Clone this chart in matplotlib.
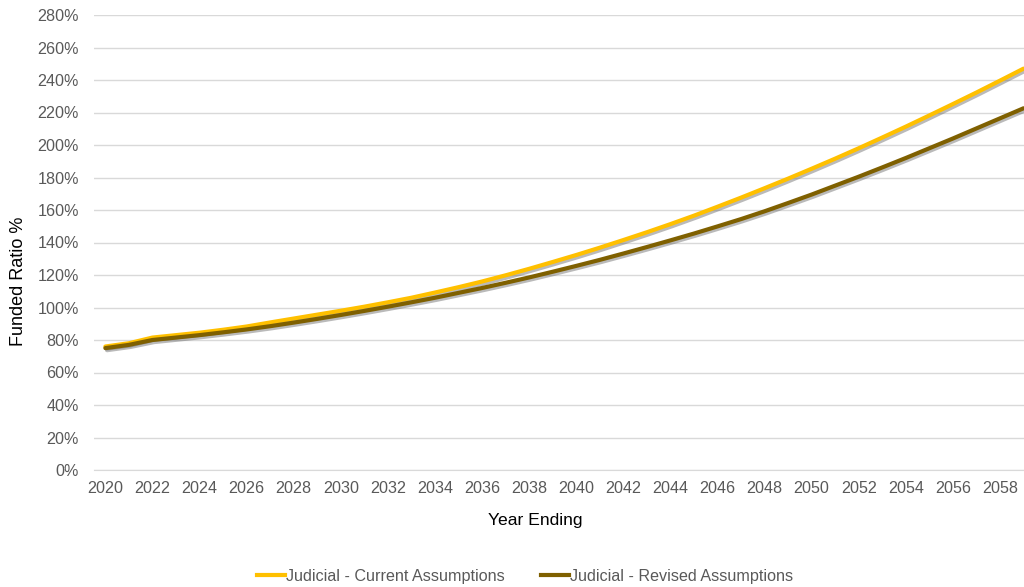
import matplotlib.pyplot as plt
import matplotlib.patheffects as pe
from matplotlib.lines import Line2D
from matplotlib.ticker import FuncFormatter

plt.rcParams['font.family'] = ['Liberation Sans', 'DejaVu Sans']

# datos
anios = list(range(2020, 2060))
actual = [76.0, 78.0, 81.5, 83.0, 84.5, 86.3, 88.3, 90.8, 93.2, 95.6,
          98.0, 100.5, 103.2, 106.0, 109.2, 112.5, 116.0, 119.8, 123.8, 128.0,
          132.3, 136.8, 141.5, 146.3, 151.3, 156.5, 162.0, 167.6, 173.4, 179.3,
          185.4, 191.6, 198.0, 204.6, 211.3, 218.2, 225.2, 232.3, 239.6, 247.0]
revisado = [75.0, 77.0, 80.0, 81.5, 83.0, 84.7, 86.5, 88.5, 90.7, 93.0,
            95.4, 97.9, 100.5, 103.2, 106.0, 109.0, 112.0, 115.2, 118.5, 122.0,
            125.6, 129.3, 133.2, 137.2, 141.3, 145.5, 149.9, 154.4, 159.2, 164.3,
            169.5, 175.0, 180.5, 186.2, 192.0, 198.0, 204.0, 210.2, 216.4, 222.6]
series = ["Judicial - Current Assumptions", "Judicial - Revised Assumptions"]
colores = ["#FFC000", "#7F6000"]

gris = "#595959"
fig = plt.figure(figsize=(10.24, 5.87), dpi=100)
ax = fig.add_axes([94.3 / 1024, 117 / 587, (1024 - 94.3) / 1024, 455 / 587])

x = list(range(len(anios)))
sombra = [pe.SimpleLineShadow(offset=(1.2, -1.5), shadow_color="#666666", alpha=0.45), pe.Normal()]
for datos, color in zip([actual, revisado], colores):
    ax.plot(x, datos, color=color, lw=3, solid_capstyle="round", path_effects=sombra)

ax.set_xlim(-0.47, 39.02)
ax.set_ylim(0, 280)
ax.set_yticks(range(0, 281, 20))
ax.yaxis.set_major_formatter(FuncFormatter(lambda v, p: f"{v:.0f}%"))
ax.set_xticks(x[::2])
ax.set_xticklabels([str(a) for a in anios[::2]])

ax.grid(axis="y", color="#D9D9D9", lw=1)
ax.set_axisbelow(True)
for lado in ["top", "right", "left"]:
    ax.spines[lado].set_visible(False)
ax.spines["bottom"].set_color("#D9D9D9")
ax.tick_params(length=0, labelsize=11.6, labelcolor=gris)
ax.tick_params(axis="y", pad=11)
ax.tick_params(axis="x", pad=8)

# titulos de ejes colocados a mano
fig.text(19 / 1024, 1 - 281 / 587, "Funded Ratio %", rotation=90, fontsize=13,
         ha="center", va="center", color="black")
fig.text(535 / 1024, 1 - 521 / 587, "Year Ending", fontsize=12.6,
         ha="center", va="center", color="black")

manijas = [Line2D([], [], color=c, lw=3) for c in colores]
fig.legend(manijas, series, loc="center", bbox_to_anchor=(525 / 1024, 11 / 587), ncol=2,
           frameon=False, fontsize=11.6, handlelength=1.75, handletextpad=0.08,
           columnspacing=2.2, labelcolor=gris)

fig.savefig("out.png", dpi=100)
